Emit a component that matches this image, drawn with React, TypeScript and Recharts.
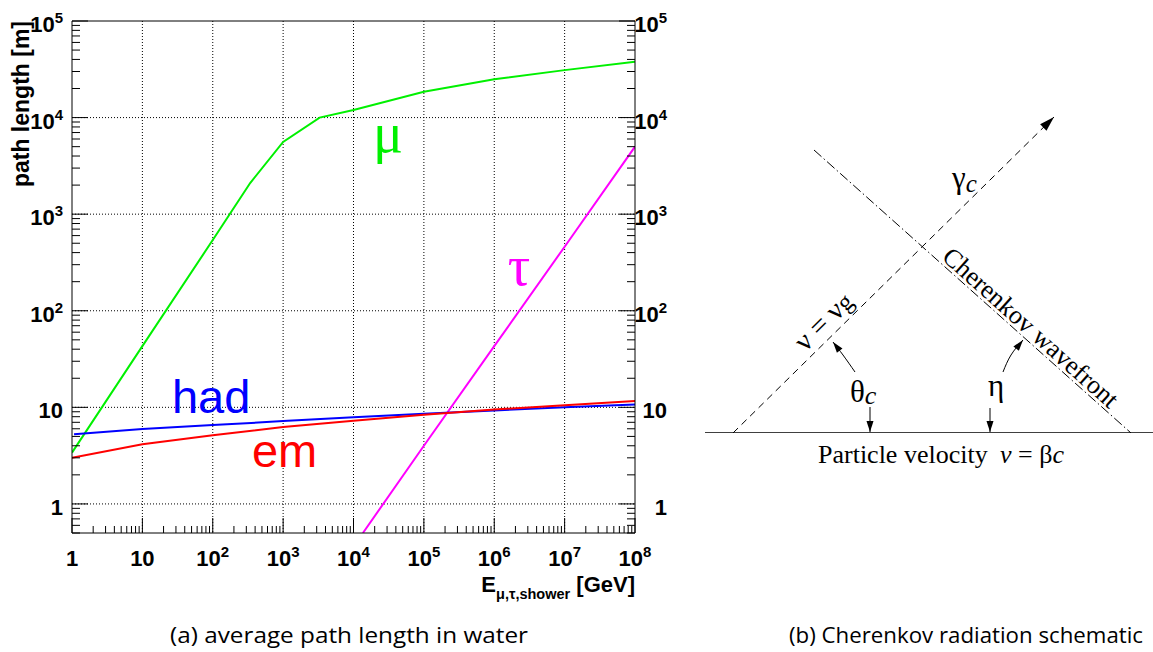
import React from 'react';
import { LineChart, Line, XAxis, YAxis, CartesianGrid, ReferenceLine, ReferenceDot } from 'recharts';

// ---------- average path length in water [m] vs energy [GeV] ----------
const muEnergy = [1, 10, 100, 340, 1000, 3300, 1e4, 1e5, 1e6, 1e7, 1e8];
const muLength = [3.4, 43, 540, 2100, 5600, 10000, 12000, 18500, 24900, 31000, 37900];

const hadEnergy = [1.07, 10, 100, 1e3, 1e4, 1e5, 1e6, 1e7, 1e8];
const hadLength = [5.25, 5.95, 6.55, 7.2, 7.9, 8.6, 9.3, 10.0, 10.7];

const emEnergy = [1, 10, 100, 1e3, 1e4, 1e5, 1e6, 1e7, 1e8];
const emLength = [3.0, 4.15, 5.15, 6.25, 7.25, 8.4, 9.5, 10.5, 11.6];

const tauEnergy = [1.36e4, 1e5, 1e6, 1e7, 1e8];
const tauLength = [0.5, 4.0, 43, 460, 5000];

// decades used for labels and grid
const xDecades = [1, 10, 100, 1e3, 1e4, 1e5, 1e6, 1e7, 1e8];
const yDecades = [1, 10, 100, 1e3, 1e4, 1e5];
const minorSteps = [1, 2, 3, 4, 5, 6, 7, 8, 9];

const xTicks = [
  ...xDecades.slice(0, -1).flatMap((d) => minorSteps.map((m) => m * d)),
  xDecades[xDecades.length - 1],
];
const yTicks = [
  ...[5, 6, 7, 8, 9].map((m) => m / 10),
  ...yDecades.slice(0, -1).flatMap((d) => minorSteps.map((m) => m * d)),
  yDecades[yDecades.length - 1],
];
const xGrid = xDecades.slice(1, -1);
const yGrid = yDecades.slice(0, -1);

const toRows = (e: number[], l: number[]) => e.map((E, i) => ({ E, L: l[i] }));
const muData = toRows(muEnergy, muLength);
const hadData = toRows(hadEnergy, hadLength);
const emData = toRows(emEnergy, emLength);
const tauData = toRows(tauEnergy, tauLength);

// ---------- Cherenkov schematic geometry (units along / above the track) ----------
const trackPath = [{ x: 0, y: 0 }, { x: 448, y: 0 }];
const photonPath = [{ x: 28, y: 0 }, { x: 349, y: 316 }];
const wavefrontPath = [{ x: 109, y: 283 }, { x: 426, y: 0 }];
const thetaArrowUp = [{ x: 150, y: 61 }, { x: 138, y: 78 }, { x: 128, y: 91 }];
const thetaArrowDown = [{ x: 165, y: 26 }, { x: 165, y: 1 }];
const etaArrowUp = [{ x: 298, y: 61 }, { x: 306, y: 78 }, { x: 318, y: 93 }];
const etaArrowDown = [{ x: 285, y: 25 }, { x: 285, y: 1 }];

const SANS = '"Liberation Sans", Arial, Helvetica, sans-serif';
const SERIF = '"Liberation Serif", "Times New Roman", serif';
const CAPTION = '"Open Sans", "DejaVu Sans", sans-serif';

const decadeOf = (v: number) => Math.round(Math.log10(v));
const isDecade = (v: number) => Math.abs(Math.log10(v) - decadeOf(v)) < 1e-9;

const PowerText = ({ x, y, exp, anchor }: { x: number; y: number; exp: number; anchor: 'start' | 'middle' | 'end' }) => (
  <text x={x} y={y} textAnchor={anchor} fontFamily={SANS} fontWeight="bold" fontSize={22} fill="#000">
    {exp === 0 ? '1' : exp === 1 ? '10' : (
      <>
        10
        <tspan dy={-9} fontSize={15}>{exp}</tspan>
      </>
    )}
  </text>
);

const LeftTick = (props: any) => {
  const { x, y, payload } = props;
  const v = payload.value;
  const major = isDecade(v);
  return (
    <g>
      <line x1={x} x2={x + (major ? 16 : 8)} y1={y} y2={y} stroke="#000" strokeWidth={1} />
      {major && <PowerText x={x - 9} y={y + 11} exp={decadeOf(v)} anchor="end" />}
    </g>
  );
};

const RightTick = (props: any) => {
  const { x, y, payload } = props;
  const v = payload.value;
  const major = isDecade(v);
  return (
    <g>
      <line x1={x} x2={x - (major ? 16 : 8)} y1={y} y2={y} stroke="#000" strokeWidth={1} />
      {major && <PowerText x={x + 32} y={y + 11} exp={decadeOf(v)} anchor="end" />}
    </g>
  );
};

const BottomTick = (props: any) => {
  const { x, y, payload } = props;
  const v = payload.value;
  const major = isDecade(v);
  return (
    <g>
      <line x1={x} x2={x} y1={y} y2={y - (major ? 15 : 7)} stroke="#000" strokeWidth={1} />
      {major && <PowerText x={x} y={y + 33} exp={decadeOf(v)} anchor="middle" />}
    </g>
  );
};

const curveLabel = (text: string, color: string, family: string, size: number) => (p: any) => (
  <text x={p.cx} y={p.cy} fill={color} fontFamily={family} fontSize={size}>
    {text}
  </text>
);

const PathLengthChart = () => (
  <LineChart width={700} height={610} margin={{ top: 21, right: 0, bottom: 10, left: 0 }}>
    <CartesianGrid
      horizontalValues={yGrid}
      verticalValues={xGrid}
      stroke="#000"
      strokeDasharray="1 2"
      strokeWidth={1}
    />
    <XAxis
      type="number"
      dataKey="E"
      scale="log"
      domain={[1, 1e8]}
      allowDataOverflow
      ticks={xTicks}
      interval={0}
      height={67}
      tickSize={0}
      tickMargin={0}
      tickLine={false}
      axisLine={{ stroke: '#000', strokeWidth: 1 }}
      tick={<BottomTick />}
    />
    <YAxis
      type="number"
      scale="log"
      domain={[0.5, 1e5]}
      allowDataOverflow
      ticks={yTicks}
      interval={0}
      width={72}
      tickSize={0}
      tickMargin={0}
      tickLine={false}
      axisLine={{ stroke: '#000', strokeWidth: 1 }}
      tick={<LeftTick />}
    />
    <YAxis
      yAxisId="right"
      orientation="right"
      type="number"
      scale="log"
      domain={[0.5, 1e5]}
      allowDataOverflow
      ticks={yTicks}
      interval={0}
      width={65}
      tickSize={0}
      tickMargin={0}
      tickLine={false}
      axisLine={{ stroke: '#000', strokeWidth: 1 }}
      tick={<RightTick />}
    />
    <ReferenceLine y={1e5} stroke="#000" strokeWidth={1} />
    <Line data={muData} dataKey="L" type="linear" stroke="#00f000" strokeWidth={2} dot={false} activeDot={false} isAnimationActive={false} />
    <Line data={tauData} dataKey="L" type="linear" stroke="#ff00ff" strokeWidth={2} dot={false} activeDot={false} isAnimationActive={false} />
    <Line data={hadData} dataKey="L" type="linear" stroke="#0000ff" strokeWidth={2} dot={false} activeDot={false} isAnimationActive={false} />
    <Line data={emData} dataKey="L" type="linear" stroke="#ff0000" strokeWidth={2} dot={false} activeDot={false} isAnimationActive={false} />
    <ReferenceDot x={26.3} y={8.67} r={0} ifOverflow="visible" shape={curveLabel('had', '#0000ff', SANS, 47)} />
    <ReferenceDot x={360} y={2.39} r={0} ifOverflow="visible" shape={curveLabel('em', '#ff0000', SANS, 47)} />
    <ReferenceDot x={18900} y={4390} r={0} ifOverflow="visible" shape={curveLabel('μ', '#00f000', SERIF, 56)} />
    <ReferenceDot x={1.56e6} y={184} r={0} ifOverflow="visible" shape={curveLabel('τ', '#ff00ff', SERIF, 56)} />
  </LineChart>
);

type Pt = { x: number; y: number };

// arrowhead on the last point of a path; one unit is one pixel on both axes
const arrowDot = (path: Pt[], len: number, half: number) => (props: any) => {
  const { cx, cy, index } = props;
  if (index !== path.length - 1 || cx == null || cy == null) return <g key={`n${index}`} />;
  const a = path[path.length - 2];
  const b = path[path.length - 1];
  const ang = Math.atan2(-(b.y - a.y), b.x - a.x);
  const ux = Math.cos(ang);
  const uy = Math.sin(ang);
  const bx = cx - ux * len;
  const by = cy - uy * len;
  const pts = `${cx},${cy} ${bx - uy * half},${by + ux * half} ${bx + uy * half},${by - ux * half}`;
  return <polygon key={`h${index}`} points={pts} fill="#000" stroke="none" />;
};

const CherenkovSchematic = () => (
  <LineChart width={460} height={430} margin={{ top: 30, right: 0, bottom: 77, left: 12 }}>
    <XAxis type="number" dataKey="x" domain={[0, 448]} allowDataOverflow hide />
    <YAxis type="number" domain={[0, 323]} allowDataOverflow hide />
    <Line data={trackPath} dataKey="y" type="linear" stroke="#000" strokeWidth={1.4} dot={false} activeDot={false} isAnimationActive={false} />
    <Line data={photonPath} dataKey="y" type="linear" stroke="#000" strokeWidth={1} strokeDasharray="7 5" dot={arrowDot(photonPath, 15, 4.5)} activeDot={false} isAnimationActive={false} />
    <Line data={wavefrontPath} dataKey="y" type="linear" stroke="#000" strokeWidth={1} strokeDasharray="10 3 1.5 3" dot={false} activeDot={false} isAnimationActive={false} />
    <Line data={thetaArrowUp} dataKey="y" type="natural" stroke="#000" strokeWidth={1} dot={arrowDot(thetaArrowUp, 11, 3.5)} activeDot={false} isAnimationActive={false} />
    <Line data={thetaArrowDown} dataKey="y" type="linear" stroke="#000" strokeWidth={1} dot={arrowDot(thetaArrowDown, 11, 3.5)} activeDot={false} isAnimationActive={false} />
    <Line data={etaArrowUp} dataKey="y" type="natural" stroke="#000" strokeWidth={1} dot={arrowDot(etaArrowUp, 11, 3.5)} activeDot={false} isAnimationActive={false} />
    <Line data={etaArrowDown} dataKey="y" type="linear" stroke="#000" strokeWidth={1} dot={arrowDot(etaArrowDown, 11, 3.5)} activeDot={false} isAnimationActive={false} />
    <ReferenceDot
      x={247}
      y={245}
      r={0}
      ifOverflow="visible"
      shape={(p: any) => (
        <text x={p.cx} y={p.cy} fontFamily={SERIF} fontSize={31} fill="#000">
          γ<tspan fontStyle="italic" fontSize={25} dy={4}>c</tspan>
        </text>
      )}
    />
    <ReferenceDot
      x={125}
      y={105}
      r={0}
      ifOverflow="visible"
      shape={(p: any) => (
        <text x={p.cx} y={p.cy} textAnchor="middle" transform={`rotate(-44.5 ${p.cx} ${p.cy})`} fontFamily={SERIF} fontSize={29} fill="#000">
          ν = ν<tspan fontSize={25}>g</tspan>
        </text>
      )}
    />
    <ReferenceDot
      x={320}
      y={99}
      r={0}
      ifOverflow="visible"
      shape={(p: any) => (
        <text x={p.cx} y={p.cy} textAnchor="middle" transform={`rotate(41.8 ${p.cx} ${p.cy})`} fontFamily={SERIF} fontSize={26} fill="#000">
          Cherenkov wavefront
        </text>
      )}
    />
    <ReferenceDot
      x={145}
      y={31}
      r={0}
      ifOverflow="visible"
      shape={(p: any) => (
        <text x={p.cx} y={p.cy} fontFamily={SERIF} fontSize={31} fill="#000">
          θ<tspan fontStyle="italic" fontSize={26} dy={2}>c</tspan>
        </text>
      )}
    />
    <ReferenceDot
      x={283}
      y={37}
      r={0}
      ifOverflow="visible"
      shape={(p: any) => (
        <text x={p.cx} y={p.cy} fontFamily={SERIF} fontSize={31} fill="#000">
          η
        </text>
      )}
    />
    <ReferenceDot
      x={113}
      y={-30}
      r={0}
      ifOverflow="visible"
      shape={(p: any) => (
        <text x={p.cx} y={p.cy} fontFamily={SERIF} fontSize={26} fill="#000">
          Particle velocity
        </text>
      )}
    />
    <ReferenceDot
      x={295}
      y={-30}
      r={0}
      ifOverflow="visible"
      shape={(p: any) => (
        <text x={p.cx} y={p.cy} fontFamily={SERIF} fontSize={26} fill="#000">
          <tspan fontStyle="italic">v</tspan> = β<tspan fontStyle="italic">c</tspan>
        </text>
      )}
    />
  </LineChart>
);

export default function App() {
  return (
    <div style={{ position: 'absolute', left: 0, top: 0, width: 1153, height: 652, background: '#fff', overflow: 'hidden' }}>
      <div style={{ position: 'absolute', left: 0, top: 0 }}>
        <PathLengthChart />
      </div>
      <div style={{ position: 'absolute', left: 693, top: 80 }}>
        <CherenkovSchematic />
      </div>
      <svg width={1153} height={652} style={{ position: 'absolute', left: 0, top: 0, pointerEvents: 'none' }}>
        <text
          x={29}
          y={21}
          transform="rotate(-90 29 21)"
          textAnchor="end"
          fontFamily={SANS}
          fontWeight="bold"
          fontSize={23}
          fill="#000"
        >
          path length [m]
        </text>
        <text x={635} y={592} textAnchor="end" fontFamily={SANS} fontWeight="bold" fontSize={22} fill="#000">
          E<tspan fontSize={14.5} dy={7}>μ,τ,shower</tspan>
          <tspan dy={-7}> [GeV]</tspan>
        </text>
        <text x={349} y={643} textAnchor="middle" fontFamily={CAPTION} fontSize={22} fill="#000" textLength={358} lengthAdjust="spacingAndGlyphs">
          (a) average path length in water
        </text>
        <text x={966} y={643} textAnchor="middle" fontFamily={CAPTION} fontSize={21} fill="#000" textLength={354} lengthAdjust="spacingAndGlyphs">
          (b) Cherenkov radiation schematic
        </text>
      </svg>
    </div>
  );
}
